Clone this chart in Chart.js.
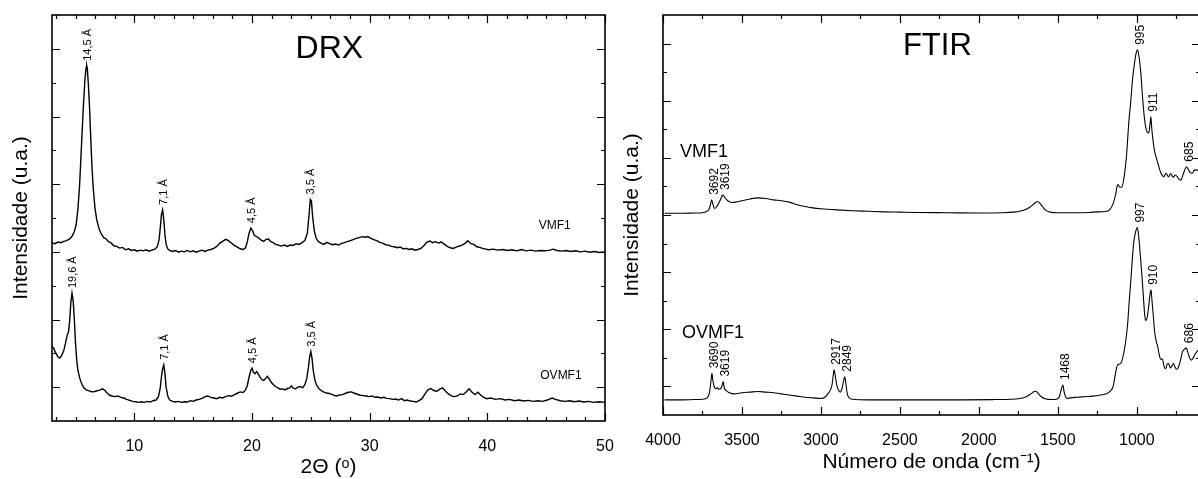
<!DOCTYPE html>
<html>
<head>
<meta charset="utf-8">
<script src="https://cdn.jsdelivr.net/npm/chart.js@4.4.1/dist/chart.umd.min.js"></script>
<style>
html, body { margin: 0; padding: 0; background: #fff; overflow: hidden; }
#wrap { position: relative; width: 1198px; height: 479px; overflow: hidden; }
#drx { position: absolute; left: 0; top: 0; }
#ftir { position: absolute; left: 606px; top: 0; }
</style>
</head>
<body>
<div id="wrap">
  <canvas id="drx" width="625" height="479"></canvas>
  <canvas id="ftir" width="596" height="479"></canvas>
</div>
<script>
// ---- DRX data (2theta, intensity in arbitrary units, curves offset) ----
const drxVmfX = [3.0,3.25,3.5,3.75,4.0,4.25,4.5,4.7,4.9,5.05,5.2,5.35,5.5,5.65,5.8,5.9,5.95,6.0,6.1,6.2,6.3,6.4,6.5,6.65,6.8,7.0,7.2,7.4,7.6,7.8,8.0,8.25,8.5,8.75,9.0,9.25,9.5,9.75,10.0,10.25,10.5,10.75,11.0,11.25,11.5,11.75,11.95,12.1,12.2,12.3,12.4,12.5,12.6,12.7,12.85,13.0,13.25,13.5,13.75,14.0,14.25,14.5,14.75,15.0,15.25,15.5,15.75,16.0,16.25,16.5,16.75,17.0,17.25,17.5,17.75,18.0,18.25,18.5,18.75,19.0,19.25,19.45,19.6,19.75,19.9,20.05,20.2,20.4,20.6,20.8,21.0,21.2,21.4,21.6,21.8,22.0,22.25,22.5,22.75,23.0,23.25,23.5,23.75,24.0,24.25,24.5,24.7,24.85,24.95,25.05,25.15,25.3,25.45,25.65,25.9,26.1,26.35,26.6,26.85,27.1,27.35,27.6,27.85,28.1,28.35,28.6,28.85,29.1,29.35,29.6,29.85,30.1,30.35,30.6,30.85,31.1,31.35,31.6,31.85,32.1,32.35,32.6,32.85,33.1,33.35,33.6,33.85,34.1,34.35,34.6,34.85,35.1,35.35,35.6,35.85,36.1,36.35,36.6,36.85,37.1,37.35,37.6,37.85,38.1,38.35,38.6,38.85,39.1,39.35,39.6,39.85,40.1,40.5,40.9,41.3,41.7,42.1,42.5,42.9,43.3,43.7,44.1,44.5,44.9,45.3,45.6,45.9,46.3,46.7,47.1,47.5,47.9,48.3,48.7,49.1,49.5,50.0];
const drxVmfY = [5.26,5.24,5.29,5.27,5.31,5.33,5.38,5.46,5.6,5.8,6.25,7.0,8.1,9.2,10.1,10.45,10.5,10.42,9.9,9.2,8.3,7.5,6.9,6.3,5.95,5.68,5.52,5.42,5.38,5.3,5.27,5.18,5.16,5.11,5.13,5.06,5.09,5.04,5.06,5.02,5.05,5.03,5.06,5.02,5.05,5.08,5.15,5.35,5.7,6.1,6.24,5.95,5.5,5.22,5.08,5.04,5.01,5.04,4.99,5.02,5.0,5.04,5.0,5.03,4.99,5.02,5.05,5.01,5.05,5.07,5.1,5.16,5.25,5.31,5.37,5.33,5.26,5.19,5.14,5.09,5.07,5.12,5.3,5.55,5.7,5.62,5.48,5.45,5.4,5.34,5.31,5.37,5.38,5.3,5.27,5.22,5.2,5.17,5.2,5.16,5.2,5.19,5.24,5.22,5.27,5.34,5.55,6.1,6.55,6.5,6.05,5.6,5.4,5.3,5.25,5.22,5.28,5.24,5.21,5.23,5.2,5.25,5.27,5.3,5.33,5.36,5.4,5.42,5.45,5.43,5.45,5.4,5.36,5.33,5.28,5.26,5.21,5.2,5.16,5.15,5.12,5.14,5.09,5.1,5.07,5.09,5.05,5.07,5.1,5.18,5.28,5.32,5.27,5.3,5.26,5.29,5.22,5.16,5.12,5.1,5.14,5.17,5.2,5.25,5.33,5.24,5.22,5.15,5.13,5.1,5.08,5.06,5.08,5.05,5.07,5.04,5.06,5.03,5.07,5.03,5.05,5.02,5.04,5.03,5.05,5.08,5.04,5.02,5.04,5.01,5.03,5.0,5.02,4.99,5.01,4.98,5.0];

const drxOvmfX = [3.0,3.15,3.3,3.5,3.65,3.8,4.0,4.15,4.3,4.4,4.5,4.6,4.7,4.8,4.9,5.0,5.1,5.2,5.35,5.5,5.7,5.9,6.1,6.3,6.5,6.7,6.9,7.1,7.3,7.5,7.7,7.9,8.1,8.35,8.6,8.85,9.1,9.35,9.6,9.85,10.1,10.35,10.6,10.85,11.1,11.35,11.6,11.85,12.05,12.2,12.3,12.4,12.5,12.6,12.7,12.85,13.0,13.25,13.5,13.75,14.0,14.25,14.5,14.75,15.0,15.25,15.5,15.75,16.0,16.25,16.5,16.75,17.0,17.25,17.5,17.75,18.0,18.25,18.5,18.75,19.0,19.25,19.45,19.6,19.75,19.9,20.0,20.1,20.25,20.4,20.55,20.7,20.85,21.0,21.15,21.3,21.45,21.6,21.8,22.0,22.2,22.4,22.6,22.8,23.0,23.2,23.35,23.5,23.7,23.9,24.1,24.3,24.5,24.65,24.8,24.9,25.0,25.1,25.2,25.35,25.5,25.7,25.95,26.2,26.45,26.7,26.95,27.2,27.45,27.7,27.95,28.2,28.45,28.7,28.95,29.2,29.45,29.7,29.95,30.2,30.45,30.7,30.95,31.2,31.45,31.7,31.95,32.2,32.45,32.7,32.95,33.2,33.45,33.7,33.95,34.2,34.45,34.7,34.95,35.2,35.45,35.7,35.95,36.2,36.45,36.7,36.95,37.2,37.45,37.7,37.95,38.2,38.45,38.7,38.95,39.2,39.45,39.7,39.95,40.3,40.7,41.1,41.5,41.9,42.3,42.7,43.1,43.5,43.9,44.3,44.7,45.1,45.5,45.8,46.2,46.6,47.0,47.4,47.8,48.2,48.6,49.0,49.5,50.0];
const drxOvmfY = [2.2,2.15,2.02,1.9,1.86,1.92,2.08,2.3,2.55,2.62,2.95,3.5,3.78,3.55,3.0,2.3,1.8,1.5,1.28,1.12,0.98,0.92,0.9,0.87,0.86,0.88,0.9,0.92,0.95,0.9,0.82,0.76,0.74,0.72,0.74,0.7,0.68,0.64,0.61,0.58,0.57,0.55,0.57,0.55,0.58,0.56,0.6,0.62,0.72,0.98,1.3,1.55,1.66,1.4,1.0,0.72,0.62,0.58,0.56,0.58,0.55,0.57,0.56,0.6,0.58,0.62,0.64,0.67,0.72,0.74,0.7,0.68,0.66,0.7,0.68,0.72,0.75,0.73,0.78,0.82,0.86,0.84,0.92,1.05,1.3,1.5,1.56,1.45,1.4,1.46,1.38,1.28,1.22,1.2,1.26,1.32,1.25,1.16,1.08,1.02,0.98,0.94,0.95,0.92,0.96,0.98,1.04,0.97,0.95,1.0,1.02,0.98,1.08,1.25,1.6,1.9,2.05,1.85,1.5,1.2,1.05,0.95,0.88,0.84,0.82,0.8,0.76,0.74,0.77,0.78,0.82,0.85,0.86,0.82,0.79,0.76,0.75,0.74,0.72,0.74,0.7,0.71,0.68,0.7,0.67,0.66,0.64,0.65,0.62,0.66,0.6,0.62,0.59,0.58,0.56,0.6,0.66,0.8,0.92,0.96,0.9,0.88,0.94,0.98,0.88,0.8,0.74,0.72,0.74,0.8,0.78,0.86,0.95,0.85,0.78,0.85,0.76,0.7,0.66,0.68,0.64,0.66,0.62,0.64,0.6,0.62,0.59,0.61,0.58,0.6,0.58,0.62,0.68,0.64,0.6,0.58,0.6,0.57,0.59,0.56,0.58,0.55,0.57,0.55];

const drxVmfPeaks = [5.95, 12.4, 19.9, 24.95];
const drxVmfPeakText = ['14,5 Å', '7,1 Å', '4,5 Å', '3,5 Å'];
const drxOvmfPeaks = [4.7, 12.5, 20.0, 25.0];
const drxOvmfPeakText = ['19,6 Å', '7,1 Å', '4,5 Å', '3,5 Å'];
const drxTickLabels = [10, 20, 30, 40, 50];

// ---- FTIR data (wavenumber cm-1, offset intensity) ----
const ftirVmfX = [3990,3900,3800,3750,3725,3710,3700,3692,3684,3674,3662,3650,3635,3625,3619,3610,3590,3565,3540,3500,3450,3400,3350,3300,3250,3200,3150,3100,3050,3000,2900,2800,2700,2600,2500,2400,2200,2000,1850,1780,1740,1700,1670,1645,1630,1615,1595,1575,1550,1500,1400,1300,1250,1200,1170,1150,1135,1125,1118,1108,1095,1080,1065,1050,1038,1028,1015,1005,995,985,975,962,950,940,925,916,911,905,895,886,867,848,838,829,815,800,785,770,755,740,722,705,685,675,662,650,635,619,600];
const ftirVmfY = [7.06,7.06,7.07,7.08,7.12,7.18,7.35,7.53,7.38,7.23,7.28,7.38,7.55,7.68,7.7,7.62,7.5,7.44,7.45,7.5,7.56,7.6,7.58,7.53,7.5,7.45,7.36,7.3,7.25,7.22,7.18,7.15,7.13,7.11,7.1,7.09,7.08,7.07,7.08,7.1,7.13,7.2,7.3,7.42,7.47,7.42,7.28,7.16,7.1,7.08,7.08,7.09,7.11,7.12,7.2,7.4,7.7,8.0,8.07,7.97,7.98,8.35,9.1,10.3,11.0,11.7,12.3,12.65,12.78,12.5,12.0,11.0,10.3,9.98,9.87,10.2,10.44,10.0,9.5,9.2,8.82,8.47,8.38,8.34,8.46,8.34,8.45,8.32,8.4,8.3,8.22,8.45,8.69,8.6,8.48,8.46,8.57,8.58,8.5];

const ftirOvmfX = [3990,3900,3800,3750,3720,3705,3695,3690,3684,3675,3665,3655,3645,3635,3625,3619,3612,3600,3580,3550,3500,3450,3400,3350,3300,3250,3200,3150,3100,3050,3000,2975,2955,2940,2930,2922,2917,2910,2900,2890,2878,2868,2858,2849,2842,2835,2825,2800,2700,2500,2300,2100,1900,1800,1740,1700,1670,1650,1640,1625,1605,1580,1540,1505,1490,1478,1468,1460,1450,1440,1420,1380,1330,1280,1230,1190,1165,1150,1140,1130,1122,1112,1100,1085,1070,1058,1048,1038,1028,1018,1008,997,988,978,968,958,950,944,935,925,916,910,904,896,888,878,868,858,848,838,828,818,808,798,788,778,768,758,748,735,722,712,700,686,680,668,656,645,632,620,600];
const ftirOvmfY = [0.53,0.53,0.54,0.55,0.6,0.8,1.25,1.46,1.2,0.98,0.92,0.95,0.9,0.92,1.05,1.17,0.95,0.85,0.78,0.74,0.78,0.8,0.82,0.8,0.78,0.74,0.7,0.66,0.62,0.6,0.58,0.62,0.75,0.88,1.05,1.4,1.58,1.4,1.05,0.88,0.8,0.9,1.15,1.34,1.1,0.8,0.62,0.55,0.53,0.53,0.53,0.53,0.54,0.55,0.58,0.64,0.74,0.82,0.83,0.76,0.64,0.57,0.54,0.56,0.65,0.9,1.05,0.8,0.62,0.58,0.6,0.62,0.64,0.66,0.7,0.75,0.85,1.0,1.3,1.6,1.75,1.78,1.82,2.1,2.6,3.2,4.0,4.7,5.5,6.1,6.4,6.56,6.25,5.6,4.9,4.1,3.5,3.3,3.4,3.8,4.25,4.38,4.0,3.5,2.95,2.6,2.4,2.1,1.95,1.96,1.7,1.62,1.78,1.8,1.65,1.72,1.8,1.68,1.6,1.7,1.95,2.2,2.3,2.34,2.25,2.04,1.92,1.98,2.12,2.22,2.3];

const ftirVmfPeaks = [3692, 3619, 995, 911, 685];
const ftirVmfPeakText = ['3692', '3619', '995', '911', '685'];
const ftirOvmfPeaks = [3690, 3619, 2917, 2849, 1468, 997, 910, 686];
const ftirOvmfPeakText = ['3690', '3619', '2917', '2849', '1468', '997', '910', '686'];
const ftirTickLabels = [4000, 3500, 3000, 2500, 2000, 1500, 1000];

Chart.defaults.font.family = "'Liberation Sans', Arial, sans-serif";
Chart.defaults.color = '#000';

function pts(xs, ys) {
  return xs.map((v, i) => ({x: v, y: ys[i]}));
}

// frame with inward ticks on all four sides
const frameTicks = {
  id: 'frameTicks',
  afterDraw(chart, args, o) {
    const {ctx, chartArea: a, scales: {x, y}} = chart;
    ctx.save();
    ctx.strokeStyle = '#000';
    ctx.lineWidth = 1.2;
    ctx.beginPath();
    const vt = (v, len) => {
      if (v < x.min || v > x.max) return;
      const p = Math.round(x.getPixelForValue(v)) + 0.5;
      ctx.moveTo(p, a.bottom); ctx.lineTo(p, a.bottom - len);
      ctx.moveTo(p, a.top); ctx.lineTo(p, a.top + len);
    };
    const ht = (v, len) => {
      const p = Math.round(y.getPixelForValue(v)) + 0.5;
      ctx.moveTo(a.left, p); ctx.lineTo(a.left + len, p);
      ctx.moveTo(a.right, p); ctx.lineTo(a.right - len, p);
    };
    o.xMajor.forEach(v => vt(v, 8));
    o.xMinor.forEach(v => vt(v, 4));
    o.yMajor.forEach(v => ht(v, 8));
    o.yMinor.forEach(v => ht(v, 4));
    ctx.stroke();
    ctx.lineWidth = 1.6;
    ctx.strokeRect(a.left, a.top, a.right - a.left, a.bottom - a.top);
    ctx.restore();
  }
};

// rotated peak labels + free texts
const peakLabels = {
  id: 'peakLabels',
  afterDraw(chart, args, o) {
    const {ctx, scales: {x, y}} = chart;
    ctx.save();
    ctx.fillStyle = '#000';
    o.groups.forEach(g => {
      const data = chart.data.datasets[g.dataset].data;
      ctx.font = g.font;
      g.at.forEach((v, i) => {
        let best = data[0];
        data.forEach(p => { if (Math.abs(p.x - v) < Math.abs(best.x - v)) best = p; });
        const px = x.getPixelForValue(v) + o.dx;
        const py = y.getPixelForValue(best.y) - o.gap;
        ctx.save();
        ctx.translate(px, py);
        ctx.rotate(-Math.PI / 2);
        ctx.textAlign = 'left';
        ctx.textBaseline = 'middle';
        ctx.fillText(g.text[i], 0, 0);
        ctx.restore();
      });
    });
    o.texts.forEach(t => {
      ctx.font = t.font;
      ctx.textAlign = t.align;
      ctx.textBaseline = 'alphabetic';
      ctx.fillText(t.text, x.getPixelForValue(t.x), y.getPixelForValue(t.y));
    });
    ctx.restore();
  }
};

const drxMinor = [];
for (let k = 2; k <= 30; k++) {
  if (k % 6 !== 0) drxMinor.push(k * 10 / 6);
}
const ftirMinor = [];
for (let v = 750; v < 4000; v += 500) ftirMinor.push(v);

new Chart(document.getElementById('drx'), {
  type: 'line',
  data: {
    datasets: [
      {label: 'VMF1', data: pts(drxVmfX, drxVmfY), borderColor: '#000', borderWidth: 1.4, pointRadius: 0, tension: 0},
      {label: 'OVMF1', data: pts(drxOvmfX, drxOvmfY), borderColor: '#000', borderWidth: 1.4, pointRadius: 0, tension: 0}
    ]
  },
  options: {
    responsive: false,
    animation: false,
    devicePixelRatio: 1,
    layout: {padding: {top: 15, right: 20, left: 0, bottom: 0}},
    plugins: {
      legend: {display: false},
      tooltip: {enabled: false},
      frameTicks: {xMajor: drxTickLabels, xMinor: drxMinor, yMajor: [1, 3, 5, 7, 9, 11], yMinor: [2, 4, 6, 8, 10]},
      peakLabels: {
        dx: 1, gap: 5,
        groups: [
          {dataset: 0, at: drxVmfPeaks, text: drxVmfPeakText, font: "11px 'Liberation Sans', Arial"},
          {dataset: 1, at: drxOvmfPeaks, text: drxOvmfPeakText, font: "11px 'Liberation Sans', Arial"}
        ],
        texts: [
          {text: 'DRX', x: 26.57, y: 10.73, align: 'center', font: "32px 'Liberation Sans', Arial"},
          {text: 'VMF1', x: 44.36, y: 5.68, align: 'left', font: "12px 'Liberation Sans', Arial"},
          {text: 'OVMF1', x: 44.5, y: 1.24, align: 'left', font: "12px 'Liberation Sans', Arial"}
        ]
      }
    },
    scales: {
      x: {
        type: 'linear', min: 3, max: 50,
        grid: {display: false}, border: {display: false},
        ticks: {font: {size: 16}, padding: 8, autoSkip: false, maxRotation: 0, callback: v => String(v)},
        afterBuildTicks: s => { s.ticks = drxTickLabels.map(v => ({value: v})); },
        afterFit: s => { s.height = 58; },
        title: {display: true, text: '2Θ (ᵒ)', font: {size: 21, lineHeight: 1}, padding: {top: 0, bottom: 1}}
      },
      y: {
        min: 0, max: 12,
        grid: {display: false}, border: {display: false},
        ticks: {display: false},
        afterFit: s => { s.width = 52; },
        title: {display: true, text: 'Intensidade (u.a.)', font: {size: 21, lineHeight: 1}, padding: {top: 11, bottom: 0}}
      }
    }
  },
  plugins: [frameTicks, peakLabels]
});

new Chart(document.getElementById('ftir'), {
  type: 'line',
  data: {
    datasets: [
      {label: 'VMF1', data: pts(ftirVmfX, ftirVmfY), borderColor: '#000', borderWidth: 1.1, pointRadius: 0, cubicInterpolationMode: 'monotone'},
      {label: 'OVMF1', data: pts(ftirOvmfX, ftirOvmfY), borderColor: '#000', borderWidth: 1.1, pointRadius: 0, cubicInterpolationMode: 'monotone'}
    ]
  },
  options: {
    responsive: false,
    animation: false,
    devicePixelRatio: 1,
    layout: {padding: {top: 15, right: 2, left: 0, bottom: 0}},
    plugins: {
      legend: {display: false},
      tooltip: {enabled: false},
      frameTicks: {xMajor: ftirTickLabels, xMinor: ftirMinor, yMajor: [1, 3, 5, 7, 9, 11, 13], yMinor: [2, 4, 6, 8, 10, 12]},
      peakLabels: {
        dx: 3, gap: 5,
        groups: [
          {dataset: 0, at: ftirVmfPeaks, text: ftirVmfPeakText, font: "12px 'Liberation Sans', Arial"},
          {dataset: 1, at: ftirOvmfPeaks, text: ftirOvmfPeakText, font: "12px 'Liberation Sans', Arial"}
        ],
        texts: [
          {text: 'FTIR', x: 2263, y: 12.6, align: 'center', font: "31px 'Liberation Sans', Arial"},
          {text: 'VMF1', x: 3892, y: 9.03, align: 'left', font: "18px 'Liberation Sans', Arial"},
          {text: 'OVMF1', x: 3880, y: 2.7, align: 'left', font: "18px 'Liberation Sans', Arial"}
        ]
      }
    },
    scales: {
      x: {
        type: 'linear', min: 600, max: 4000, reverse: true,
        grid: {display: false}, border: {display: false},
        ticks: {font: {size: 16}, padding: 8, autoSkip: false, maxRotation: 0, callback: v => String(v)},
        afterBuildTicks: s => { s.ticks = ftirTickLabels.map(v => ({value: v})); },
        afterFit: s => { s.height = 64; },
        title: {display: true, text: 'Número de onda (cm⁻¹)', font: {size: 21, lineHeight: 1}, padding: {top: 0, bottom: 6}}
      },
      y: {
        min: 0, max: 14,
        grid: {display: false}, border: {display: false},
        ticks: {display: false},
        afterFit: s => { s.width = 57; },
        title: {display: true, text: 'Intensidade (u.a.)', font: {size: 21, lineHeight: 1}, padding: {top: 16, bottom: 0}}
      }
    }
  },
  plugins: [frameTicks, peakLabels]
});
</script>
</body>
</html>
